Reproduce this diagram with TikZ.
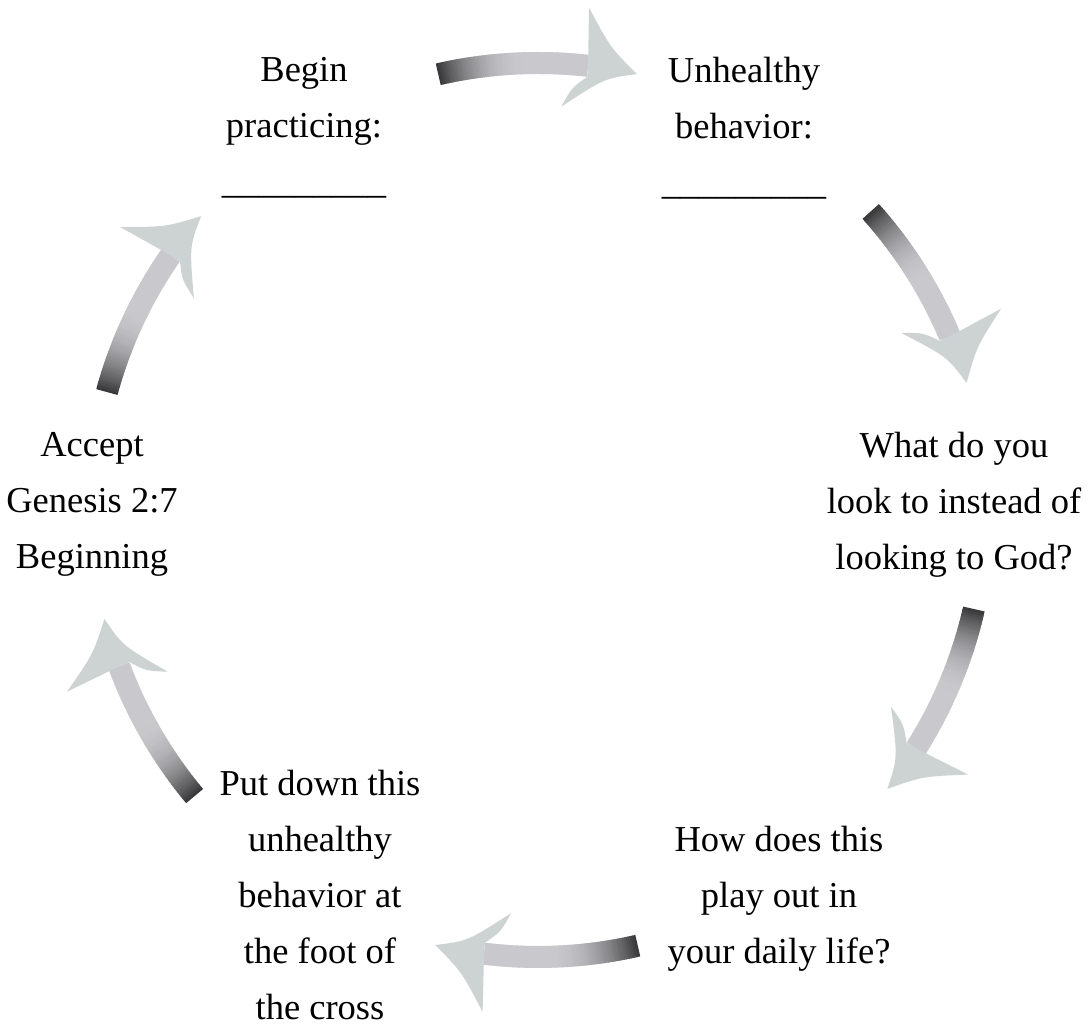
\documentclass[tikz,border=0pt]{standalone}
\usepackage{fontspec}
\setmainfont{Liberation Serif}
\definecolor{CycDark}{RGB}{58,58,60}
\definecolor{CycLight}{RGB}{201,201,205}
\definecolor{CycHead}{RGB}{205,211,211}
\tikzset{
  cyc/label/.style={
    anchor=north,
    inner sep=0pt,
    align=center,
    text=black,
    font=\fontsize{18.25}{28}\selectfont
  },
  cyc/head/.style={fill=CycHead, draw=none}
}
\def\bandouter{458}
\def\bandinner{436}
% curved shaded arrow on the circle round (cyc): #1 tail angle, #2 tip angle
\newcommand{\cyclearrow}[2]{%
  \pgfmathsetmacro{\bandend}{#2+6.5}
  \foreach \k in {0,...,59}{
    \pgfmathsetmacro{\sa}{#1-(#1-\bandend)*\k/60}
    \pgfmathsetmacro{\ea}{#1-(#1-\bandend)*(\k+1)/60-0.15}
    \pgfmathsetmacro{\rampt}{min(1,\k/34)}
    \pgfmathtruncatemacro{\shadepct}{100*\rampt*(2-\rampt)}
    \fill[CycLight!\shadepct!CycDark]
      ([shift={(cyc)}]\sa:\bandouter) arc[start angle=\sa,end angle=\ea,radius=\bandouter]
      -- ([shift={(cyc)}]\ea:\bandinner) arc[start angle=\ea,end angle=\sa,radius=\bandinner] -- cycle;
  }
  \pgfmathsetmacro{\hjoin}{#2+6.5}
  \pgfmathsetmacro{\hback}{#2+7}
  \pgfmathsetmacro{\hcone}{#2+3.9}
  \pgfmathsetmacro{\hctwo}{#2+4}
  \pgfmathsetmacro{\hinner}{#2+9.5}
  \pgfmathsetmacro{\hcthree}{#2+8.2}
  \pgfmathsetmacro{\hjointwo}{#2+6.3}
  \fill[cyc/head]
    ([shift={(cyc)}]\hjoin:\bandouter) -- ([shift={(cyc)}]\hback:505)
    .. controls ([shift={(cyc)}]\hcone:468) .. ([shift={(cyc)}]#2:447)
    .. controls ([shift={(cyc)}]\hctwo:437) .. ([shift={(cyc)}]\hinner:404)
    .. controls ([shift={(cyc)}]\hcthree:424) .. ([shift={(cyc)}]\hjointwo:\bandinner) -- cycle;
}
\begin{document}
\begin{tikzpicture}[x=0.5pt,y=0.5pt]
  \useasboundingbox (0,0) rectangle (1088,1026);
  \coordinate (cyc) at (538,516);

  \node[cyc/label] (practice) at (304,969) {Begin\\practicing:\\\_\_\_\_\_\_\_\_\_};
  \node[cyc/label] (unhealthy) at (744,969) {Unhealthy\\behavior:\\\_\_\_\_\_\_\_\_\_};
  \node[cyc/label] (lookto) at (954,594) {What do you\\look to instead of\\looking to God?};
  \node[cyc/label] (dailylife) at (779,200) {How does this\\play out in\\your daily life?};
  \node[cyc/label] (putdown) at (320,256) {Put down this\\unhealthy\\behavior at\\the foot of\\the cross};
  \node[cyc/label] (accept) at (92,594) {Accept\\Genesis 2:7\\Beginning};

  \cyclearrow{164.7}{138.9}
  \cyclearrow{102.9}{77.2}
  \cyclearrow{41.9}{16.5}
  \cyclearrow{-12.8}{-38.6}
  \cyclearrow{-77.1}{-103.3}
  \cyclearrow{-140.2}{-165.9}
\end{tikzpicture}
\end{document}
